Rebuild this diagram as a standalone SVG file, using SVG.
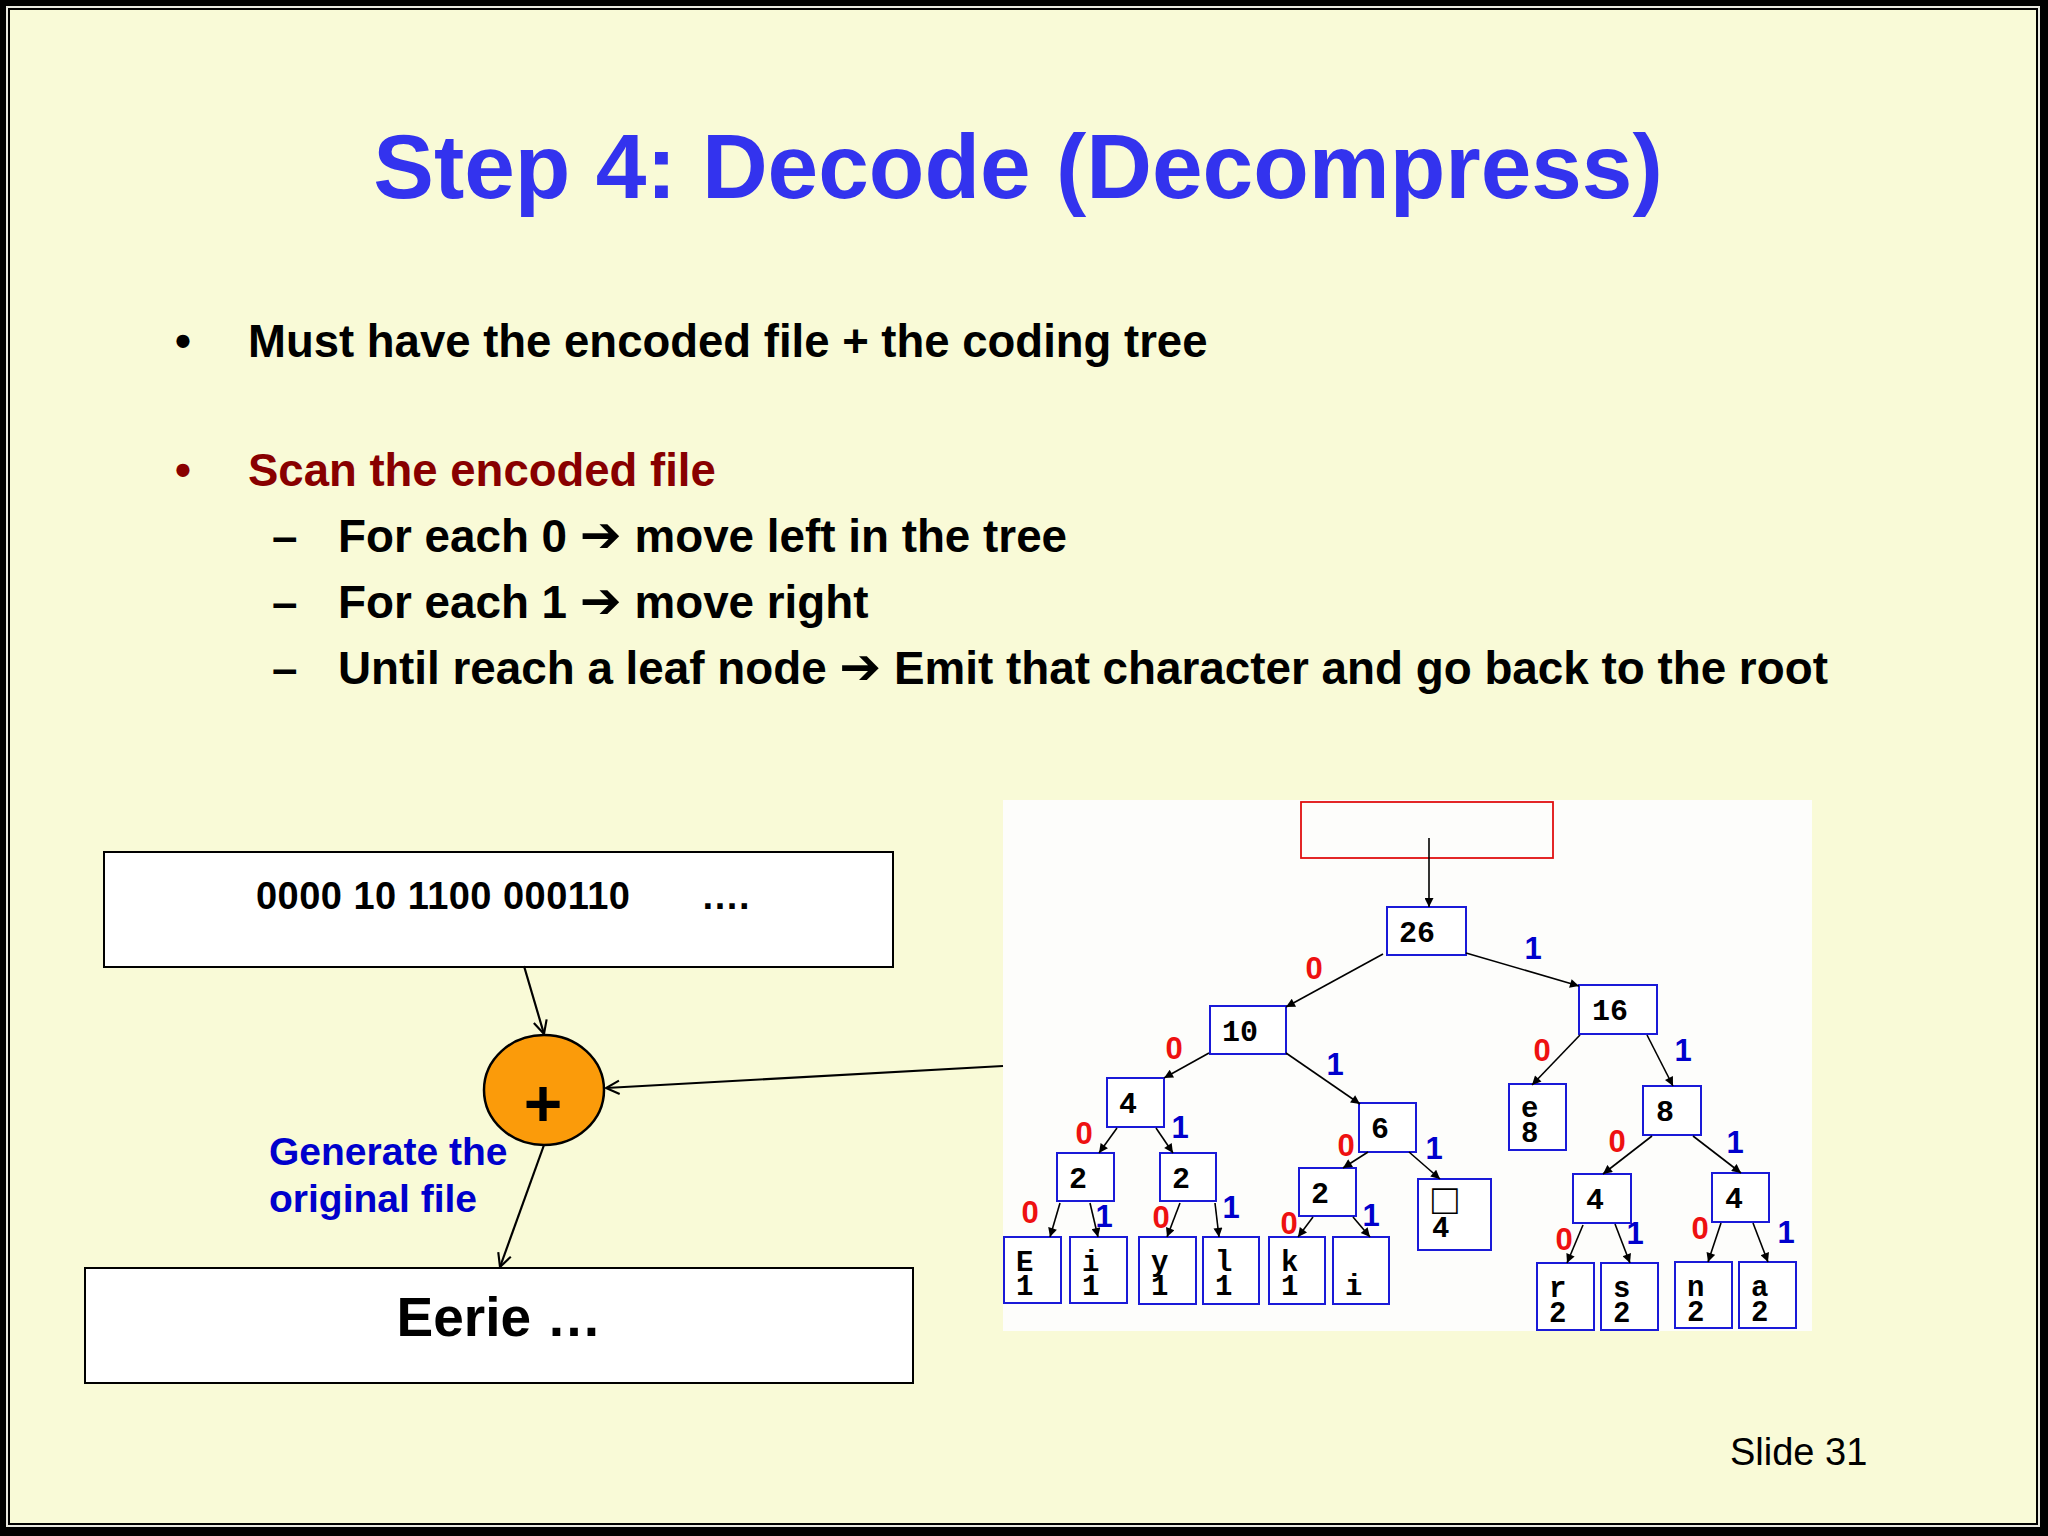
<svg xmlns="http://www.w3.org/2000/svg" width="2048" height="1536" viewBox="0 0 2048 1536">
<defs>
<marker id="tri" viewBox="0 0 10 10" refX="10" refY="5" markerWidth="11" markerHeight="9" markerUnits="userSpaceOnUse" orient="auto">
<path d="M0,0 L10,5 L0,10 z" fill="#000"/>
</marker>
<marker id="vee" viewBox="0 0 12 12" refX="11" refY="6" markerWidth="16" markerHeight="16" markerUnits="userSpaceOnUse" orient="auto">
<path d="M1,1 L11,6 L1,11" fill="none" stroke="#000" stroke-width="1.6"/>
</marker>
<style>
.sans{font-family:"Liberation Sans",Arial,"DejaVu Sans",sans-serif;font-weight:bold}
.arr{font-family:"DejaVu Sans",sans-serif;font-weight:bold;font-size:50px}
.mono{font-family:"Liberation Mono","Courier New",monospace;font-weight:bold;font-size:30px;fill:#000}
.lf{font-family:"Liberation Mono","Courier New",monospace;font-weight:bold;font-size:29px;fill:#000}
.tn{fill:#fff;stroke:#1a1ad8;stroke-width:2}
.te{stroke:#000;stroke-width:1.6;fill:none;marker-end:url(#tri)}
.le{stroke:#000;stroke-width:2.2;fill:none;marker-end:url(#vee)}
.z{fill:#ee1111;font-size:31px;text-anchor:middle}
.o{fill:#0000cc;font-size:31px;text-anchor:middle}
.body{font-size:45.5px;fill:#000}
.red{fill:#880000}
.sub{font-size:45.8px;fill:#000}
</style>
</defs>
<rect x="0" y="0" width="2048" height="1536" fill="#000"/>
<rect x="6" y="6" width="2034" height="1521" fill="#e8e8e0"/>
<rect x="8" y="8" width="2030" height="1517" fill="#000"/>
<rect x="10" y="10" width="2026" height="1513" fill="#f9fad7"/>

<text class="sans" x="1018" y="198" font-size="91" fill="#3333ee" text-anchor="middle">Step 4: Decode (Decompress)</text>

<g class="sans">
<text class="body" x="175" y="357">•</text>
<text class="body" x="248" y="357">Must have the encoded file + the coding tree</text>
<text class="body red" x="175" y="486">•</text>
<text class="body red" x="248" y="486">Scan the encoded file</text>
<text class="sub" x="272" y="552">–</text>
<text class="sub" x="338" y="552">For each 0 <tspan class="arr">➔</tspan> move left in the tree</text>
<text class="sub" x="272" y="618">–</text>
<text class="sub" x="338" y="618">For each 1 <tspan class="arr">➔</tspan> move right</text>
<text class="sub" x="272" y="684">–</text>
<text class="sub" x="338" y="684">Until reach a leaf node <tspan class="arr">➔</tspan> Emit that character and go back to the root</text>
</g>

<text x="1730" y="1465" font-family="Liberation Sans,Arial,sans-serif" font-size="38" fill="#000">Slide 31</text>

<!-- tree picture background -->
<rect x="1003" y="800" width="809" height="531" fill="#fdfdfb"/>

<g id="encoded">
<rect x="104" y="852" width="789" height="115" fill="#fff" stroke="#000" stroke-width="2"/>
<text class="sans" x="256" y="909" font-size="38" fill="#000" textLength="374" lengthAdjust="spacing">0000 10 1100 000110</text>
<text class="sans" x="701" y="909" font-size="38" fill="#000">….</text>
</g>
<g id="decoder">
<ellipse cx="544" cy="1090" rx="60" ry="55" fill="#fb9b0a" stroke="#000" stroke-width="2.5"/>
<text class="sans" x="543" y="1126" font-size="66" fill="#000" text-anchor="middle">+</text>
</g>
<g id="output">
<rect x="85" y="1268" width="828" height="115" fill="#fff" stroke="#000" stroke-width="2"/>
<text class="sans" x="499" y="1336" font-size="55" fill="#000" text-anchor="middle">Eerie …</text>
</g>
<g id="caption">
<text class="sans" x="269" y="1165" font-size="39" fill="#0000cc">Generate the</text>
<text class="sans" x="269" y="1212" font-size="39" fill="#0000cc">original file</text>
</g>

<g id="tree-nodes">
<g id="start"><rect x="1301" y="802" width="252" height="56" fill="none" stroke="#e01010" stroke-width="1.8"/></g>
<g id="n26"><rect class="tn" x="1387" y="907" width="79" height="48"/><text class="mono" x="1399" y="942">26</text></g>
<g id="n10"><rect class="tn" x="1210" y="1006" width="76" height="48"/><text class="mono" x="1222" y="1041">10</text></g>
<g id="n16"><rect class="tn" x="1579" y="985" width="78" height="49"/><text class="mono" x="1592" y="1020">16</text></g>
<g id="n4a"><rect class="tn" x="1107" y="1078" width="57" height="49"/><text class="mono" x="1119" y="1113">4</text></g>
<g id="n6"><rect class="tn" x="1359" y="1103" width="57" height="49"/><text class="mono" x="1371" y="1138">6</text></g>
<g id="ne8"><rect class="tn" x="1509" y="1084" width="57" height="66"/><text class="lf" x="1521" y="1117">e</text><text class="lf" x="1521" y="1142">8</text></g>
<g id="n8"><rect class="tn" x="1643" y="1086" width="58" height="49"/><text class="mono" x="1656" y="1121">8</text></g>
<g id="n2a"><rect class="tn" x="1057" y="1153" width="57" height="48"/><text class="mono" x="1069" y="1188">2</text></g>
<g id="n2b"><rect class="tn" x="1160" y="1153" width="56" height="48"/><text class="mono" x="1172" y="1188">2</text></g>
<g id="n2c"><rect class="tn" x="1299" y="1168" width="57" height="48"/><text class="mono" x="1311" y="1203">2</text></g>
<g id="nsp4"><rect class="tn" x="1418" y="1179" width="73" height="71"/><text x="1432" y="1214" font-family="Liberation Sans,Arial,sans-serif" font-size="43" fill="#000">□</text><text class="lf" x="1432" y="1237">4</text></g>
<g id="n4L"><rect class="tn" x="1573" y="1174" width="58" height="49"/><text class="mono" x="1586" y="1209">4</text></g>
<g id="n4R"><rect class="tn" x="1712" y="1173" width="57" height="49"/><text class="mono" x="1725" y="1208">4</text></g>
<g id="lE"><rect class="tn" x="1004" y="1237" width="57" height="66"/><text class="lf" x="1016" y="1271">E</text><text class="lf" x="1016" y="1295">1</text></g>
<g id="li1"><rect class="tn" x="1070" y="1237" width="57" height="66"/><text class="lf" x="1082" y="1271">i</text><text class="lf" x="1082" y="1295">1</text></g>
<g id="ly"><rect class="tn" x="1139" y="1237" width="57" height="67"/><text class="lf" x="1151" y="1271">y</text><text class="lf" x="1151" y="1295">1</text></g>
<g id="ll"><rect class="tn" x="1203" y="1237" width="56" height="67"/><text class="lf" x="1215" y="1271">l</text><text class="lf" x="1215" y="1295">1</text></g>
<g id="lk"><rect class="tn" x="1269" y="1237" width="56" height="67"/><text class="lf" x="1281" y="1271">k</text><text class="lf" x="1281" y="1295">1</text></g>
<g id="li2"><rect class="tn" x="1333" y="1237" width="56" height="67"/><text class="lf" x="1345" y="1295">i</text></g>
<g id="lr"><rect class="tn" x="1537" y="1263" width="57" height="67"/><text class="lf" x="1549" y="1297">r</text><text class="lf" x="1549" y="1322">2</text></g>
<g id="ls"><rect class="tn" x="1601" y="1263" width="57" height="67"/><text class="lf" x="1613" y="1297">s</text><text class="lf" x="1613" y="1322">2</text></g>
<g id="ln"><rect class="tn" x="1675" y="1262" width="57" height="66"/><text class="lf" x="1687" y="1296">n</text><text class="lf" x="1687" y="1321">2</text></g>
<g id="la"><rect class="tn" x="1739" y="1262" width="57" height="66"/><text class="lf" x="1751" y="1296">a</text><text class="lf" x="1751" y="1321">2</text></g>
</g>

<g id="connectors">
<line class="le" x1="524" y1="966" x2="544" y2="1034"/>
<line class="le" x1="1003" y1="1066" x2="606" y2="1088"/>
<line class="le" x1="544" y1="1145" x2="500" y2="1267"/>
<line class="te" x1="1429" y1="838" x2="1429" y2="907"/>
<line class="te" x1="1383" y1="954" x2="1286" y2="1007"/>
<line class="te" x1="1466" y1="953" x2="1579" y2="986"/>
<line class="te" x1="1209" y1="1053" x2="1164" y2="1078"/>
<line class="te" x1="1286" y1="1053" x2="1360" y2="1104"/>
<line class="te" x1="1580" y1="1035" x2="1532" y2="1085"/>
<line class="te" x1="1647" y1="1035" x2="1673" y2="1086"/>
<line class="te" x1="1117" y1="1128" x2="1099" y2="1153"/>
<line class="te" x1="1156" y1="1128" x2="1173" y2="1153"/>
<line class="te" x1="1368" y1="1152" x2="1343" y2="1168"/>
<line class="te" x1="1409" y1="1152" x2="1440" y2="1179"/>
<line class="te" x1="1652" y1="1136" x2="1603" y2="1174"/>
<line class="te" x1="1693" y1="1136" x2="1741" y2="1173"/>
<line class="te" x1="1060" y1="1203" x2="1050" y2="1237"/>
<line class="te" x1="1090" y1="1203" x2="1098" y2="1237"/>
<line class="te" x1="1180" y1="1203" x2="1167" y2="1237"/>
<line class="te" x1="1215" y1="1203" x2="1219" y2="1237"/>
<line class="te" x1="1313" y1="1217" x2="1298" y2="1237"/>
<line class="te" x1="1353" y1="1217" x2="1370" y2="1237"/>
<line class="te" x1="1583" y1="1225" x2="1567" y2="1263"/>
<line class="te" x1="1615" y1="1224" x2="1630" y2="1263"/>
<line class="te" x1="1721" y1="1223" x2="1708" y2="1262"/>
<line class="te" x1="1753" y1="1223" x2="1768" y2="1262"/>
</g>

<g id="edge-labels" class="sans">
<text class="z" x="1314" y="979">0</text><text class="o" x="1533" y="959">1</text>
<text class="z" x="1174" y="1059">0</text><text class="o" x="1335" y="1075">1</text>
<text class="z" x="1542" y="1061">0</text><text class="o" x="1683" y="1061">1</text>
<text class="z" x="1084" y="1144">0</text><text class="o" x="1180" y="1138">1</text>
<text class="z" x="1346" y="1156">0</text><text class="o" x="1434" y="1159">1</text>
<text class="z" x="1617" y="1152">0</text><text class="o" x="1735" y="1153">1</text>
<text class="z" x="1030" y="1223">0</text><text class="o" x="1104" y="1227">1</text>
<text class="z" x="1161" y="1228">0</text><text class="o" x="1231" y="1218">1</text>
<text class="z" x="1289" y="1234">0</text><text class="o" x="1371" y="1226">1</text>
<text class="z" x="1564" y="1250">0</text><text class="o" x="1635" y="1244">1</text>
<text class="z" x="1700" y="1239">0</text><text class="o" x="1786" y="1243">1</text>
</g>
</svg>
